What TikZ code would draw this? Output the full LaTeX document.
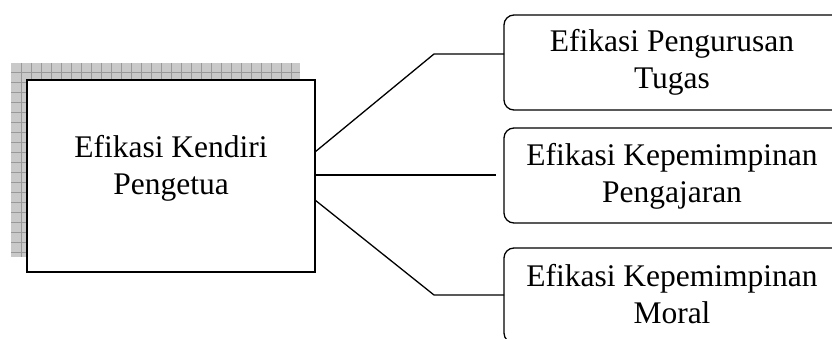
\documentclass[tikz,border=0pt]{standalone}
\usepackage{fontspec}
\setmainfont{Liberation Serif}
\begin{document}
\begin{tikzpicture}[x=1pt,y=-1pt,
  label text/.style={font=\fontsize{31.5}{37}\selectfont, align=center, inner sep=0pt},
  mainbox/.style={draw=black, line width=2pt, fill=white},
  subbox/.style={draw=black, line width=1.3pt, rounded corners=10pt, fill=white},
  link/.style={draw=black, line width=1.3pt},
  gridline/.style={draw=gray!80, line width=0.7pt}]
  \clip (0,0) rectangle (832,339);
  \fill[white] (0,0) rectangle (832,339);

  % grey gridded shadow behind the main box
  \fill[gray!42] (11,63) rectangle (300,257);
  \foreach \gx in {21,31,...,291} {
    \draw[gridline] (\gx,63) -- (\gx,257);
  }
  \foreach \gy in {72,82,...,252} {
    \draw[gridline] (11,\gy) -- (300,\gy);
  }

  % main box
  \draw[mainbox] (27,80) rectangle (315,272);
  \node[label text] (main) at (171,168) {Efikasi Kendiri\\Pengetua};
  \coordinate (m1) at (315,152);
  \coordinate (m2) at (315,175);
  \coordinate (m3) at (315,200);

  % right-hand boxes
  \draw[subbox] (504,15) rectangle (842,110);
  \draw[subbox] (504,128) rectangle (842,223);
  \draw[subbox] (504,248) rectangle (842,343);
  \node[label text] (b1) at (672,62) {Efikasi Pengurusan\\Tugas};
  \node[label text] (b2) at (672,176) {Efikasi Kepemimpinan\\Pengajaran};
  \node[label text] (b3) at (672,294) {Efikasi Kepemimpinan\\Moral};

  \coordinate (e1) at (504,54);
  \coordinate (e2) at (496,175);
  \coordinate (e3) at (504,295);

  % connectors
  \draw[link] (m1) -- (434,54) -- (e1);
  \draw[link] (m2) -- (e2);
  \draw[link] (m3) -- (434,295) -- (e3);
\end{tikzpicture}
\end{document}
